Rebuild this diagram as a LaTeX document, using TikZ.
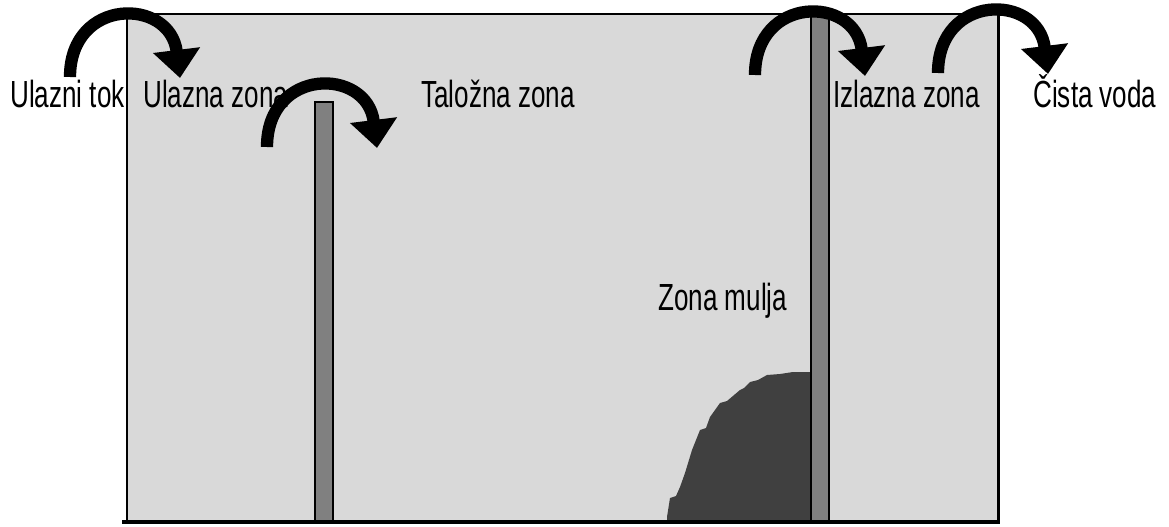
\documentclass[tikz,border=0pt]{standalone}
\usepackage{fontspec}
\usepackage{tikz}
\usetikzlibrary{arrows.meta}
\setmainfont{Liberation Sans}[FakeStretch=0.69]
\definecolor{tankfill}{HTML}{D9D9D9}
\definecolor{bafflefill}{HTML}{808080}
\definecolor{sludgefill}{HTML}{404040}
\tikzset{
  zonelabel/.style={anchor=base west, inner sep=0pt, font=\fontsize{21.5}{25}\selectfont},
  flowarrow/.style={line width=7pt, -{Triangle[width=26pt, length=16pt]}},
  baffle/.style={fill=bafflefill, draw=black, line width=1.2pt}
}

\begin{document}
\begin{tikzpicture}[x=0.02cm, y=-0.02cm]
        \useasboundingbox (0,0) rectangle (1169,527);
        % tank
        \fill[tankfill] (127,14) rectangle (998,522);
        % sludge
        \fill[sludgefill] (667,522) -- (667,517) -- (670,498) -- (676,496) -- (680,487) -- (685,473)
            -- (692,450) -- (700,430) -- (706,428) -- (710,417) -- (720,403) -- (727,401)
            -- (740,390) -- (744,388) -- (750,382) -- (758,380) -- (767,375) -- (780,374)
            -- (793,372) -- (811,372) -- (811,522) -- cycle;
        % baffles
        \draw[baffle] (315,102) rectangle (333,522);
        \draw[baffle] (811,14) rectangle (829,522);
        \draw[line width=1.7pt] (127,14) rectangle (998,522);
        \draw[line width=2.8pt] (122,522) -- (1000,522);
        % labels
        \node[zonelabel] (ulaznitok) at (10,108) {Ulazni tok};
        \node[zonelabel] (ulaznazona) at (143,108) {Ulazna zona};
        \node[zonelabel] (taloznazona) at (421,108) {Taložna zona};
        \node[zonelabel] (izlaznazona) at (833,108) {Izlazna zona};
        \node[zonelabel] (cistavoda) at (1033,108) {Čista voda};
        \node[zonelabel] (zonamulja) at (658,310) {Zona mulja};
        % flow arrows
        \foreach \x/\y in {70/77, 267/147, 755/75, 938/73}
            \draw[flowarrow] (\x,\y) .. controls (\x,\y-80) and (\x+100,\y-80) .. (\x+110,\y+1);
    \end{tikzpicture}
\end{document}
